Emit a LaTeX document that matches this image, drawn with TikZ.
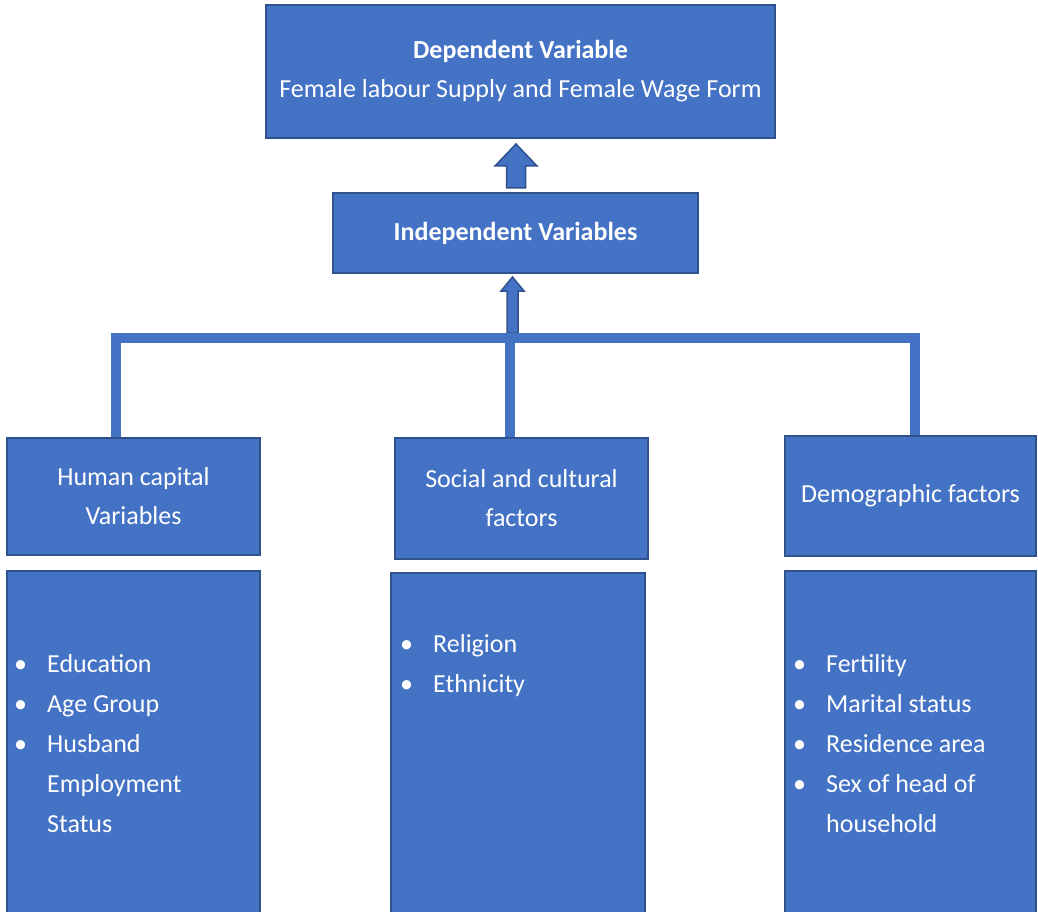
\documentclass[tikz,border=0pt]{standalone}
\usepackage{fontspec}
\setmainfont{Carlito}
\usetikzlibrary{positioning, calc}

\definecolor{boxblue}{HTML}{4472C4}
\definecolor{edgeblue}{HTML}{2F528F}
\newcommand{\bul}{\makebox[33pt][l]{\textbullet}}
\newcommand{\gap}{\hspace*{33pt}}

\begin{document}
\begin{tikzpicture}[x=1pt, y=-1pt,
	box/.style={draw=edgeblue, line width=2pt, fill=boxblue, text=white, inner sep=0pt, align=center, font=\fontsize{26}{39}\selectfont},
	items/.style={text=white, inner sep=0pt, align=left, font=\fontsize{26}{40}\selectfont},
	tree/.style={draw=boxblue, line width=10pt, line join=miter},
	blockarrow/.style={draw=edgeblue, line width=1.5pt, fill=boxblue, line join=miter}]
				
				\useasboundingbox (0,0) rectangle (1038,912);
				
				% --- top boxes ---
				\node[box, minimum width=509pt, minimum height=133pt] (dep) at (520.5,71.5)
				  {\textbf{Dependent Variable}\\Female labour Supply and Female Wage Form};
				\node[box, minimum width=365pt, minimum height=80pt] (ind) at (515.5,233)
				  {\textbf{Independent Variables}};
				
				% --- factor headings ---
				\node[box, minimum width=253pt, minimum height=117pt] (hc) at (133.5,496.5) {Human capital\\Variables};
				\node[box, minimum width=253pt, minimum height=121pt] (sc) at (521.5,498.5) {Social and cultural\\factors};
				\node[box, minimum width=251pt, minimum height=120pt] (dm) at (910.5,496) {Demographic factors};
				
				% --- lists (cut off at the bottom) ---
				\node[box, minimum width=253pt, minimum height=360pt] (hclist) at (133.5,751) {};
				\node[box, minimum width=254pt, minimum height=360pt] (sclist) at (518,753) {};
				\node[box, minimum width=251pt, minimum height=360pt] (dmlist) at (910.5,751) {};
				
				% base = last line
				\node[items, anchor=base west] (hcitems) at ($(hclist.north west)+(8,262)$)
				  {\bul Education\\\bul Age Group\\\bul Husband\\\gap Employment\\\gap Status};
				\node[items, anchor=base west] (scitems) at ($(sclist.north west)+(10,120)$)
				  {\bul Religion\\\bul Ethnicity};
				\node[items, anchor=base west] (dmitems) at ($(dmlist.north west)+(9,262)$)
				  {\bul Fertility\\\bul Marital status\\\bul Residence area\\\bul Sex of head of\\\gap household};
				
				% --- arrows up ---
				\coordinate (uptip) at ($(dep.south)+(-4.5,5)$);
				\filldraw[blockarrow] (uptip) -- ++(21,22) -- ++(-11.5,0) -- ++(0,22) -- ++(-19,0)
				  -- ++(0,-22) -- ++(-11.5,0) -- cycle;
				\coordinate (thintip) at ($(ind.south)+(-3,3)$);
				\filldraw[blockarrow] (thintip) -- ++(11.5,14) -- ++(-6,0) -- ++(0,42) -- ++(-11,0)
				  -- ++(0,-42) -- ++(-6,0) -- cycle;
				
				% --- tree ---
				\coordinate (bar) at (512.5,337.5);
				\coordinate (hcin) at ($(hc.north west)+(109.5,0)$);
				\coordinate (scin) at ($(sc.north)+(-11.5,0)$);
				\coordinate (dmin) at ($(dm.north)+(4,0)$);
				\draw[tree] (hcin) -- (hcin |- bar) -- (dmin |- bar) -- (dmin);
				\draw[tree] (scin) -- (scin |- bar);
				
\end{tikzpicture}
\end{document}
